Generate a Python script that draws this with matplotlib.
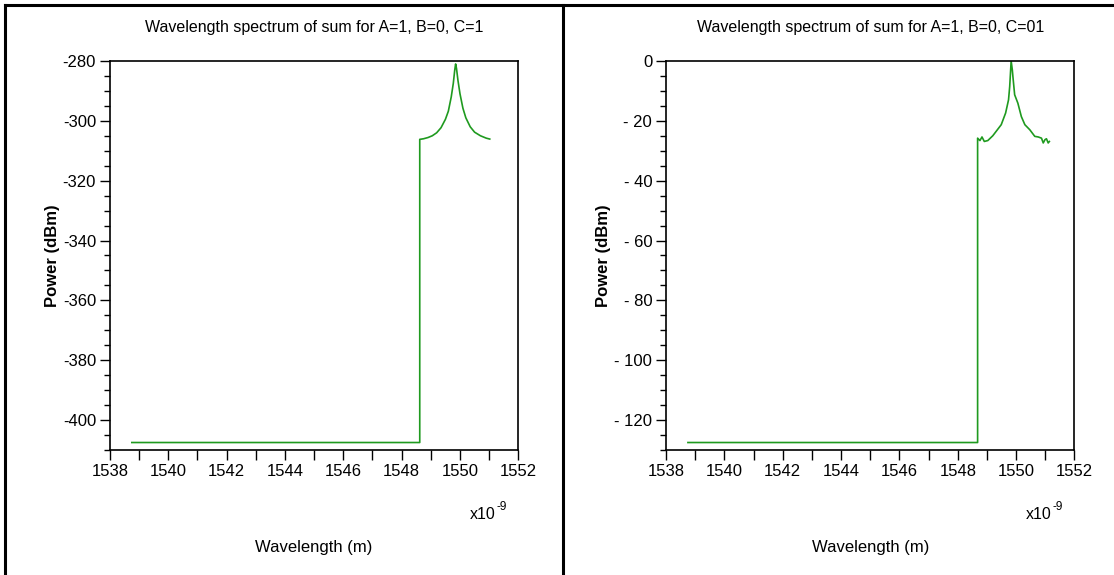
import numpy as np
import matplotlib
matplotlib.use("Agg")
import matplotlib.pyplot as plt
from matplotlib.ticker import MultipleLocator, FuncFormatter
from matplotlib.lines import Line2D

# left panel (C=1): wavelength in nm, power in dBm
wl_c1 = [1538.75, 1548.62, 1548.62, 1548.75, 1548.9, 1549.05, 1549.2, 1549.35, 1549.5,
         1549.6, 1549.7, 1549.77, 1549.82, 1549.85, 1549.88, 1549.93, 1550.0, 1550.1,
         1550.2, 1550.35, 1550.5, 1550.7, 1550.9, 1551.02]
pw_c1 = [-407.5, -407.5, -306.2, -306.0, -305.6, -305.0, -304.0, -302.3, -299.5,
         -296.8, -292.0, -287.5, -283.0, -281.0, -282.5, -286.5, -291.0, -295.8,
         -299.0, -302.0, -303.8, -305.0, -305.8, -306.1]

# right panel (C=01)
wl_c01 = [1538.75, 1548.68, 1548.68, 1548.76, 1548.83, 1548.91, 1549.03, 1549.2, 1549.31,
          1549.49, 1549.64, 1549.74, 1549.78, 1549.83, 1549.87, 1549.89, 1549.95, 1550.06,
          1550.18, 1550.3, 1550.47, 1550.64, 1550.76, 1550.87, 1550.93, 1550.99, 1551.04,
          1551.1, 1551.14]
pw_c01 = [-127.5, -127.5, -25.8, -26.6, -25.4, -26.9, -26.6, -25.0, -23.6,
          -21.3, -17.4, -13.0, -8.6, 0.0, -3.0, -5.2, -11.3, -14.1,
          -18.6, -21.3, -23.0, -25.2, -25.4, -25.8, -27.4, -26.3, -26.0,
          -27.4, -26.9]

titles = ["Wavelength spectrum of sum for A=1, B=0, C=1",
          "Wavelength spectrum of sum for A=1, B=0, C=01"]

sans = ["Liberation Sans", "DejaVu Sans"]
green = "#1f9a1f"

fig = plt.figure(figsize=(11.14, 5.75), dpi=100)

panels = [
    (0.0987, wl_c1, pw_c1, (-410, -280), titles[0], lambda v, p: "-%d" % abs(v) if v < 0 else "%d" % v),
    (0.5979, wl_c01, pw_c01, (-130, 0), titles[1], lambda v, p: "- %d" % abs(v) if v < 0 else "%d" % v),
]

for left, x, y, ylim, title, fmt in panels:
    ax = fig.add_axes([left, 0.2174, 0.3666, 0.6766])
    ax.plot(x, y, color=green, lw=1.2)
    ax.set_xlim(1538, 1552)
    ax.set_ylim(*ylim)
    ax.xaxis.set_major_locator(MultipleLocator(2))
    ax.xaxis.set_minor_locator(MultipleLocator(1))
    ax.yaxis.set_major_locator(MultipleLocator(20))
    ax.yaxis.set_minor_locator(MultipleLocator(5))
    ax.yaxis.set_major_formatter(FuncFormatter(fmt))
    ax.tick_params(which="major", direction="out", length=7, width=1, pad=3)
    ax.tick_params(which="minor", direction="out", length=4, width=1)
    ax.tick_params(axis="x", which="both", length=7)
    for lab in ax.get_xticklabels() + ax.get_yticklabels():
        lab.set_family(sans)
        lab.set_fontsize(12)
    for s in ax.spines.values():
        s.set_linewidth(1.2)
    ax.set_title(title, family=sans, fontsize=11.5, pad=21)
    ax.set_ylabel("Power (dBm)", fontweight="bold", family=sans,
                  fontsize=12, labelpad=2)
    ax.text(0.945, -0.165, "x10", transform=ax.transAxes, ha="right", va="center",
            family=sans, fontsize=11.5)
    ax.text(0.946, -0.147, "-9", transform=ax.transAxes, ha="left", va="center",
            family=sans, fontsize=8.5)
    ax.text(0.5, -0.25, "Wavelength (m)", transform=ax.transAxes, ha="center", va="center",
            family=sans, fontsize=12)

# panel frame lines
for xs, ys in [([0.0045, 1.0], [0.991, 0.991]), ([0.0045, 0.0045], [0.0, 0.991]),
               ([0.5058, 0.5058], [0.0, 0.991])]:
    fig.add_artist(Line2D(xs, ys, color="black", lw=2.2, transform=fig.transFigure))

fig.savefig("out.png", dpi=100)
